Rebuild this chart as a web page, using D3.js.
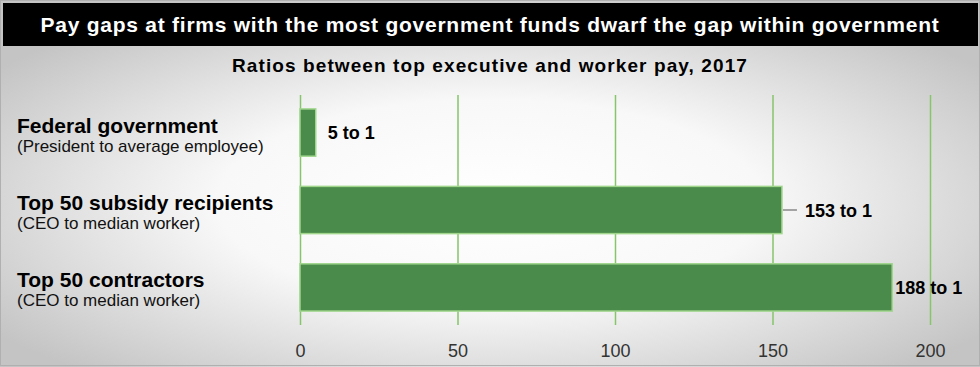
<!DOCTYPE html>
<html>
<head>
<meta charset="utf-8">
<script src="https://cdn.jsdelivr.net/npm/d3@7"></script>
<style>
  html, body { margin: 0; padding: 0; background: #fff; }
  svg { display: block; font-family: "Liberation Sans", Arial, Helvetica, sans-serif; }
</style>
</head>
<body>
<svg id="chart" width="980" height="367"></svg>
<script>
// chart data
const categories = ["Federal government", "Top 50 subsidy recipients", "Top 50 contractors"]
const notes = ["(President to average employee)", "(CEO to median worker)", "(CEO to median worker)"]
const ratios = [5, 153, 188]
const ratioLabels = ["5 to 1", "153 to 1", "188 to 1"]
const tickValues = [0, 50, 100, 150, 200]

const title = "Pay gaps at firms with the most government funds dwarf the gap within government"
const subtitle = "Ratios between top executive and worker pay, 2017"

const width = 980, height = 367
const svg = d3.select("#chart")

// background: soft white-to-grey glow
const defs = svg.append("defs")
const grad = defs.append("radialGradient")
  .attr("id", "bg")
  .attr("cx", "50%").attr("cy", "55%").attr("r", "62%")
grad.append("stop").attr("offset", "0%").attr("stop-color", "#ffffff")
grad.append("stop").attr("offset", "45%").attr("stop-color", "#f8f8f8")
grad.append("stop").attr("offset", "100%").attr("stop-color", "#c4c4c4")

svg.append("rect")
  .attr("width", width).attr("height", height)
  .attr("fill", "url(#bg)")

svg.append("rect")
  .attr("x", 0.5).attr("y", 0.5)
  .attr("width", width - 1).attr("height", height - 2)
  .attr("fill", "none")
  .attr("stroke", "#b0b0b0")

// title bar
svg.append("rect")
  .attr("x", 3).attr("y", 3)
  .attr("width", 975).attr("height", 43)
  .attr("fill", "#000")

svg.append("text")
  .attr("x", 490).attr("y", 32)
  .attr("text-anchor", "middle")
  .attr("fill", "#fff")
  .attr("font-size", "21px")
  .attr("font-weight", "bold")
  .attr("letter-spacing", "0.75px")
  .text(title)

svg.append("text")
  .attr("x", 490).attr("y", 72)
  .attr("text-anchor", "middle")
  .attr("fill", "#000")
  .attr("font-size", "19px")
  .attr("font-weight", "bold")
  .attr("letter-spacing", "1.1px")
  .text(subtitle)

// scales
const x = d3.scaleLinear().domain([0, 200]).range([300, 930])
const y = d3.scaleBand()
  .domain(categories)
  .range([95, 325])
  .paddingInner(0.39)
  .paddingOuter(0.18)

// gridlines
const grid = svg.append("g")
  .attr("transform", "translate(0,325)")
  .call(d3.axisBottom(x).tickValues(tickValues).tickSize(-230).tickFormat(""))
grid.select(".domain").remove()
grid.selectAll(".tick line")
  .attr("stroke", "#86c56a")
  .attr("stroke-width", 1.5)

// tick labels
const axis = svg.append("g")
  .attr("transform", "translate(0,325)")
  .call(d3.axisBottom(x).tickValues(tickValues).tickSize(0).tickPadding(19))
axis.select(".domain").remove()
axis.selectAll(".tick text")
  .attr("font-family", "\"Liberation Sans\", Arial, sans-serif")
  .attr("font-size", "18px")
  .attr("fill", "#333")

// bars
svg.selectAll(".bar")
  .data(categories)
  .enter()
  .append("rect")
  .attr("class", "bar")
  .attr("x", x(0))
  .attr("y", d => y(d))
  .attr("width", (d, i) => x(ratios[i]) - x(0))
  .attr("height", y.bandwidth())
  .attr("fill", "#4a8a4a")
  .attr("stroke", "#9fd68c")
  .attr("stroke-width", 1.5)

// category labels
const labels = svg.selectAll(".cat")
  .data(categories)
  .enter()
  .append("g")
  .attr("class", "cat")
  .attr("transform", d => "translate(17," + (y(d) + y.bandwidth() / 2) + ")")

labels.append("text")
  .attr("y", 0)
  .attr("font-size", "21px")
  .attr("font-weight", "bold")
  .attr("fill", "#000")
  .text(d => d)

labels.append("text")
  .attr("y", 19)
  .attr("font-size", "17px")
  .attr("fill", "#111")
  .text((d, i) => notes[i])

// value labels, nudged like the original
const labelGap = [12, 23, 3]

svg.selectAll(".val")
  .data(categories)
  .enter()
  .append("text")
  .attr("class", "val")
  .attr("x", (d, i) => x(ratios[i]) + labelGap[i])
  .attr("y", d => y(d) + y.bandwidth() / 2)
  .attr("dy", "0.38em")
  .attr("font-size", "18px")
  .attr("font-weight", "bold")
  .attr("fill", "#000")
  .text((d, i) => ratioLabels[i])

// leader line for the middle label
svg.append("line")
  .attr("x1", x(ratios[1]) + 1)
  .attr("x2", x(ratios[1]) + 15)
  .attr("y1", y(categories[1]) + y.bandwidth() / 2)
  .attr("y2", y(categories[1]) + y.bandwidth() / 2)
  .attr("stroke", "#888")
  .attr("stroke-width", 1.5)
</script>
</body>
</html>
